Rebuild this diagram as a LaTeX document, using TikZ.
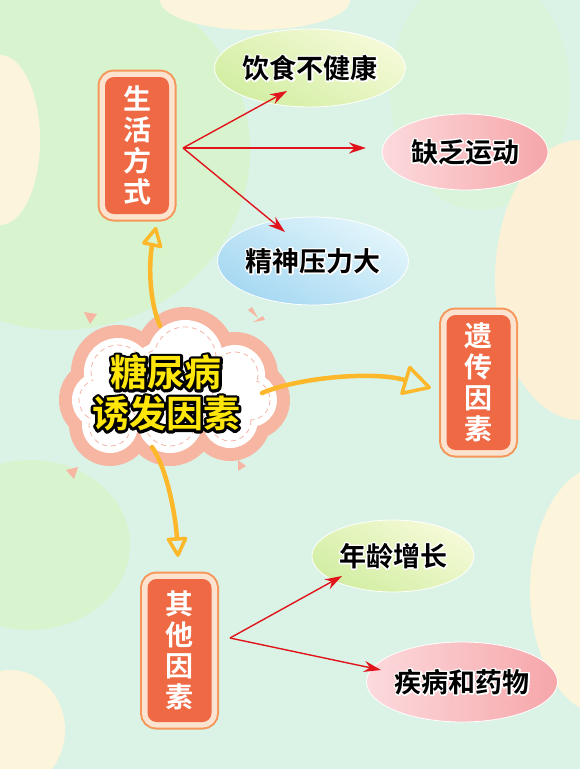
\documentclass[tikz,border=0pt]{standalone}
\usepackage{fontspec}
\usetikzlibrary{shapes.geometric,arrows.meta}
\newfontfamily\cjk{Noto Sans CJK SC}[BoldFont={Noto Sans CJK SC Bold}]
\definecolor{mint}{HTML}{DAF3E6}
\definecolor{leafgreen}{HTML}{D8F4CE}
\definecolor{cream}{HTML}{FCF5DC}
\definecolor{peach}{HTML}{FCF1D6}
\definecolor{cloudpink}{HTML}{F6B6A2}
\definecolor{dashpink}{HTML}{F4B2A4}
\definecolor{titleyellow}{HTML}{FFE60A}
\definecolor{boxred}{HTML}{EE6944}
\definecolor{boxline}{HTML}{F5975A}
\definecolor{boxband}{HTML}{FBE3D0}
\definecolor{arrowred}{HTML}{E0141A}
\definecolor{flowyellow}{HTML}{FCB82A}
\definecolor{limetop}{HTML}{F5FAD8}
\definecolor{limebot}{HTML}{D2EEA2}
\definecolor{rosetop}{HTML}{FCDADD}
\definecolor{rosebot}{HTML}{F6A6A9}
\definecolor{skytop}{HTML}{E2F5FB}
\definecolor{skybot}{HTML}{A6D8F2}
% stroked copy of a text under the text itself: #1 stroke colour, #2 stroke width
\newcommand{\inked}[3]{\leavevmode\rlap{\special{pdf:literal direct 2 Tr #2 w 1 j}\textcolor{#1}{#3}\special{pdf:literal direct 0 Tr}}#3}

\begin{document}
\begin{tikzpicture}[x=1pt,y=-1pt,
  catbox/.style={fill=boxred, rounded corners=9pt, minimum width=64pt, inner sep=0pt,
    text=white, align=center, font=\cjk\bfseries\fontsize{28}{31}\selectfont,
    preaction={draw=boxline, line width=15pt},
    preaction={draw=boxband, line width=11pt}},
  leaf/.style={ellipse, inner sep=0pt, minimum width=170pt, minimum height=78pt,
    draw=white, line width=0.8pt, font=\cjk\bfseries\fontsize{27}{30}\selectfont},
  greenleaf/.style={leaf, top color=limetop, bottom color=limebot, shading angle=-30},
  pinkleaf/.style={leaf, left color=rosetop, right color=rosebot},
  blueleaf/.style={leaf, top color=skytop, bottom color=skybot, shading angle=-30},
  redarrow/.style={draw=arrowred, line width=1.4pt, -{Stealth[length=17pt,width=11pt]}},
  flow/.style={draw=flowyellow, line width=4.5pt, line cap=round,
    -{Triangle[open, length=22pt, width=22pt, line width=3.5pt, round]}},
  spark/.style={fill=cloudpink}]

\useasboundingbox (0,0) rectangle (580,769);
\clip (0,0) rectangle (580,769);

% background
\fill[mint] (0,0) rectangle (580,769);
\fill[leafgreen] (60,150) ellipse [x radius=190, y radius=180];
\fill[cream] (0,140) ellipse [x radius=40, y radius=85];
\fill[cream] (255,0) ellipse [x radius=95, y radius=30];
\fill[leafgreen!50!mint] (480,90) ellipse [x radius=90, y radius=120];
\fill[peach] (580,280) ellipse [x radius=85, y radius=140];
\fill[leafgreen] (30,545) ellipse [x radius=100, y radius=85];
\fill[cream] (605,590) ellipse [x radius=75, y radius=125];
\fill[cream] (10,730) ellipse [x radius=55, y radius=60];

% cloud
\foreach \cx/\cy/\r in {118/372/34, 100/400/28, 185/358/38, 235/375/30, 250/400/27, 110/425/28, 170/420/33, 230/420/28, 170/390/50}
  \fill[cloudpink] (\cx,\cy) circle [radius=\r+13];
\foreach \cx/\cy/\r in {118/372/34, 100/400/28, 185/358/38, 235/375/30, 250/400/27, 110/425/28, 170/420/33, 230/420/28, 170/390/50}
  \fill[white] (\cx,\cy) circle [radius=\r];
\foreach \cx/\cy/\r in {118/372/34, 100/400/28, 185/358/38, 235/375/30, 250/400/27, 110/425/28, 170/420/33, 230/420/28, 170/390/50}
  \draw[dashpink, line width=0.8pt, dash pattern=on 5pt off 4pt] (\cx,\cy) circle [radius=\r-7];
\foreach \cx/\cy/\r in {118/372/34, 100/400/28, 185/358/38, 235/375/30, 250/400/27, 110/425/28, 170/420/33, 230/420/28, 170/390/50}
  \fill[white] (\cx,\cy) circle [radius=\r-7.8];

% little sparks round the cloud
\fill[spark] (84,312) -- (97,314) -- (90,324) -- cycle;
\fill[spark] (248,310) -- (252,307) -- (258,318) -- cycle;
\fill[spark] (253,322) -- (263,316) -- (265,320) -- cycle;
\fill[spark] (66,470) -- (78,467) -- (74,479) -- cycle;
\fill[spark] (238,460) -- (246,466) -- (238,471) -- cycle;

\node[align=center, text=titleyellow, font=\cjk\bfseries\fontsize{37}{41}\selectfont] (title) at (166,393)
  {\inked{black}{5.4}{糖尿病}\\\inked{black}{5.4}{诱发因素}};

% category boxes
\node[catbox, minimum height=137pt] (life) at (137,145.5) {生\\活\\方\\式};
\node[catbox, minimum height=135pt] (gene) at (478.5,382.5) {遗\\传\\因\\素};
\node[catbox, minimum height=143pt] (other) at (179.5,650.5) {其\\他\\因\\素};

% factor ellipses
\node[greenleaf] (diet) at (310,68) {\inked{white}{3}{饮食不健康}};
\node[pinkleaf, minimum width=166pt, minimum height=76pt] (move) at (465,152) {\inked{white}{3}{缺乏运动}};
\node[blueleaf, minimum height=88pt] (stress) at (313,261) {\inked{white}{3}{精神压力大}};
\node[greenleaf, minimum width=162pt, minimum height=72pt] (age) at (393,556) {\inked{white}{3}{年龄增长}};
\node[pinkleaf, minimum width=166pt, minimum height=80pt] (ill) at (462,682) {\inked{white}{3}{疾病和药物}};

% red connectors
\coordinate (lifeR) at (183,148);
\coordinate (otherR) at (230,638);
\coordinate (dietT) at (287,91);
\coordinate (moveT) at (366,148);
\coordinate (stressT) at (285,232);
\coordinate (ageT) at (342,576);
\coordinate (illT) at (381,670);
\draw[redarrow] (lifeR) -- (dietT);
\draw[redarrow] (lifeR) -- (moveT);
\draw[redarrow] (lifeR) -- (stressT);
\draw[redarrow] (otherR) -- (ageT);
\draw[redarrow] (otherR) -- (illT);

% yellow connectors
\coordinate (cloudN) at (160,326);
\coordinate (cloudE) at (262,393);
\coordinate (cloudS) at (152,447);
\coordinate (lifeT) at (156,227);
\coordinate (geneT) at (431,388);
\coordinate (otherT) at (178,557);
\draw[flow] (cloudN) .. controls (147,295) and (150,255) .. (lifeT);
\draw[flow, -{Triangle[open, length=30pt, width=32pt, line width=3.5pt, round]}] (cloudE) .. controls (300,377) and (375,371) .. (geneT);
\draw[flow] (cloudS) .. controls (168,470) and (176,520) .. (otherT);
\end{tikzpicture}
\end{document}
